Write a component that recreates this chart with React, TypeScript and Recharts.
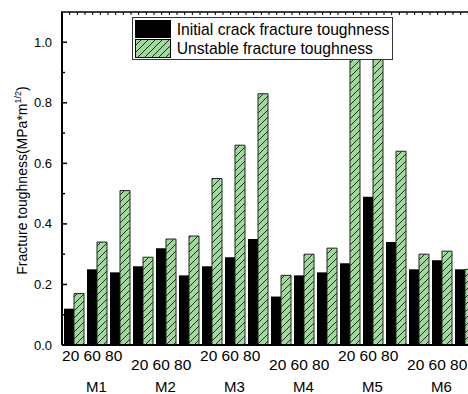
// Fracture toughness of M1-M6 at 20/60/80 — grouped bars with hatched second series
import { BarChart, Bar, XAxis, YAxis, Legend } from 'recharts';

const FONT = '"Liberation Sans", Arial, sans-serif';
const GREEN = '#9fd99b';

const groups = ['M1', 'M2', 'M3', 'M4', 'M5', 'M6'];
const temps = ['20', '60', '80'];
const initialToughness = [
  0.12, 0.25, 0.24,
  0.26, 0.32, 0.23,
  0.26, 0.29, 0.35,
  0.16, 0.23, 0.24,
  0.27, 0.49, 0.34,
  0.25, 0.28, 0.25,
];
const unstableToughness = [
  0.17, 0.34, 0.51,
  0.29, 0.35, 0.36,
  0.55, 0.66, 0.83,
  0.23, 0.30, 0.32,
  0.95, 0.95, 0.64,
  0.30, 0.31, 0.25,
];
// labelled ticks at even tenths, short minor ticks between, top of the frame at yMax
const yMax = 1.1;
const yTicks = [0, 0.1, 0.2, 0.3, 0.4, 0.5, 0.6, 0.7, 0.8, 0.9, 1.0, yMax];
const seriesNames = ['Initial crack fracture toughness', 'Unstable fracture toughness'];

const data = initialToughness.map((v, i) => ({
  key: i,
  initial: v,
  unstable: unstableToughness[i],
}));

const PLOT_W = 414;
const TOP_TICK_STEP = PLOT_W / (data.length * 3);

function GroupTick(props: any) {
  const { x, y, index } = props;
  if (index % 3 !== 1) return <g />;
  const g = Math.floor(index / 3);
  const low = g % 2 === 1;
  return (
    <g fontFamily={FONT} fill="#000">
      <text x={x - 4.3} y={y + (low ? 25 : 15.7)} textAnchor="middle" fontSize={15.5} fill="#000">
        {temps.join(' ')}
      </text>
      <text x={x} y={y + 46.5} textAnchor="middle" fontSize={15} fill="#000">
        {groups[g]}
      </text>
    </g>
  );
}

function YTick(props: any) {
  const { x, y, payload } = props;
  const axisX = x + 10;
  const v = Number(payload.value);
  if (v >= yMax - 1e-9) {
    // top frame line with its small inward ticks
    const marks = [];
    for (let px = 0; px <= PLOT_W; px += TOP_TICK_STEP) {
      marks.push(`M${axisX + px},${y}v3`);
    }
    return (
      <g>
        <path d={`M${axisX - 1},${y}h${PLOT_W + 2}`} stroke="#000" strokeWidth={1.5} />
        <path d={marks.join('')} stroke="#000" strokeWidth={1} />
      </g>
    );
  }
  const major = Math.round(v * 10) % 2 === 0;
  return (
    <g>
      <path d={`M${axisX},${y}h${major ? 5 : 3}`} stroke="#000" strokeWidth={1.5} />
      {major && (
        <text x={x} y={y} dy={4.5} textAnchor="end" fontFamily={FONT} fontSize={13} fill="#000">
          {v.toFixed(1)}
        </text>
      )}
    </g>
  );
}

function YLabel(props: any) {
  const vb = props.viewBox || { y: 12, height: 333 };
  const cy = vb.y + vb.height / 2 + 2;
  return (
    <text
      transform={`translate(27,${cy}) rotate(-90)`}
      textAnchor="middle"
      fontFamily={FONT}
      fontSize={14}
      fill="#000"
    >
      Fracture toughness(MPa*m
      <tspan dy={-6} fontSize={9}>1/2</tspan>
      <tspan dy={6}>)</tspan>
    </text>
  );
}

function LegendBox(props: any) {
  const items = props.payload || [];
  return (
    <div
      style={{
        position: 'relative',
        width: 261,
        height: 43,
        boxSizing: 'border-box',
        border: '1px solid #333',
        background: '#fff',
        fontFamily: FONT,
        fontSize: 15.7,
        color: '#000',
      }}
    >
      <div style={{ position: 'absolute', left: 2.3, top: 2, width: 36, height: 18.3, background: '#000' }} />
      <svg style={{ position: 'absolute', left: 2.3, top: 21.3 }} width={36} height={19}>
        <defs>
          <pattern id="hatchLegend" patternUnits="userSpaceOnUse" width={7} height={7}>
            <rect width={7} height={7} fill={GREEN} />
            <path d="M-1,1 l2,-2 M0,7 l7,-7 M6,8 l2,-2" stroke="#000" strokeWidth={0.8} />
          </pattern>
        </defs>
        <rect x={0.5} y={0.5} width={35} height={18} fill="url(#hatchLegend)" stroke="#000" />
      </svg>
      {items.map((it: any, i: number) => (
        <span
          key={i}
          style={{ position: 'absolute', left: 44, top: 1.5 + i * 19.5, lineHeight: '19px', whiteSpace: 'nowrap' }}
        >
          {it.value}
        </span>
      ))}
    </div>
  );
}

export default function App() {
  return (
    <div style={{ position: 'fixed', left: 0, top: 0, width: 468, height: 394, overflow: 'hidden', background: '#fff' }}>
      <BarChart
        width={62 + PLOT_W + 14}
        height={394}
        data={data}
        margin={{ top: 12, right: 14, bottom: 0, left: 0 }}
        barGap={0}
        barSize={10}
      >
        <defs>
          <pattern id="hatch" patternUnits="userSpaceOnUse" width={7} height={7}>
            <rect width={7} height={7} fill={GREEN} />
            <path d="M-1,1 l2,-2 M0,7 l7,-7 M6,8 l2,-2" stroke="#000" strokeWidth={0.8} />
          </pattern>
        </defs>
        <XAxis
          dataKey="key"
          type="category"
          interval={0}
          height={49}
          tickSize={0}
          tickMargin={0}
          tickLine={false}
          axisLine={{ stroke: '#000', strokeWidth: 2 }}
          tick={<GroupTick />}
        />
        <YAxis
          width={62}
          domain={[0, yMax]}
          ticks={yTicks}
          interval={0}
          allowDataOverflow
          tickSize={0}
          tickMargin={10}
          tickLine={false}
          tick={<YTick />}
          axisLine={{ stroke: '#000', strokeWidth: 2 }}
          label={<YLabel />}
        />
        <Legend
          content={<LegendBox />}
          layout="vertical"
          align="center"
          verticalAlign="middle"
          wrapperStyle={{ left: 131.7, top: 17, width: 261, height: 43 }}
        />
        <Bar dataKey="initial" name={seriesNames[0]} fill="#000" isAnimationActive={false} />
        <Bar
          dataKey="unstable"
          name={seriesNames[1]}
          fill="url(#hatch)"
          stroke="#222"
          strokeWidth={1}
          isAnimationActive={false}
        />
      </BarChart>
    </div>
  );
}
